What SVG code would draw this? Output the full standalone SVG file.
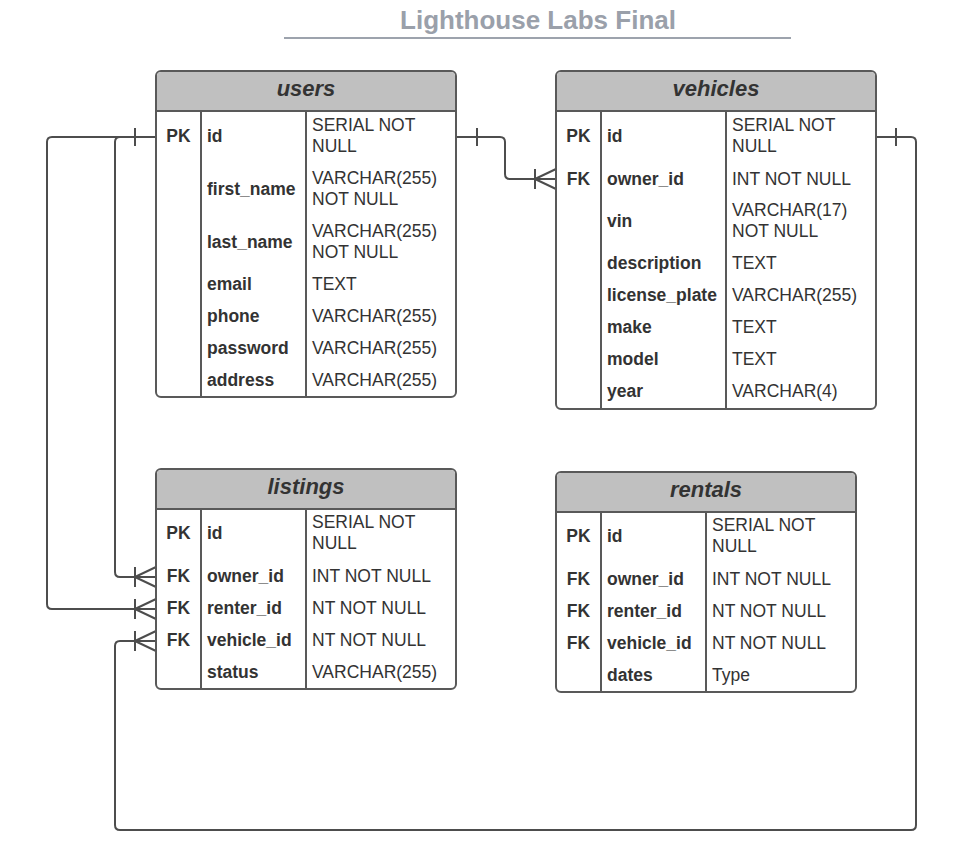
<svg xmlns="http://www.w3.org/2000/svg" width="970" height="846" viewBox="0 0 970 846">
<style>
  .title{font-family:"Liberation Sans",Arial,sans-serif;font-size:26px;font-weight:bold;fill:#9aa0aa;text-anchor:middle}
  .tbl{fill:#ffffff;stroke:#595959;stroke-width:2}
  .hdr{fill:#c0c0c0;stroke:none}
  .ln{stroke:#595959;stroke-width:2;fill:none}
  .hd{font-family:"Liberation Sans",Arial,sans-serif;font-size:22px;font-weight:bold;font-style:italic;fill:#333333;text-anchor:middle}
  .k{font-family:"Liberation Sans",Arial,sans-serif;font-size:17.5px;font-weight:bold;fill:#333333;text-anchor:middle}
  .n{font-family:"Liberation Sans",Arial,sans-serif;font-size:17.5px;font-weight:bold;fill:#333333}
  .t{font-family:"Liberation Sans",Arial,sans-serif;font-size:17.5px;fill:#333333}
  .cn{stroke:#4d4d4d;stroke-width:2;fill:none;stroke-linejoin:round}
</style>
<rect width="970" height="846" fill="#ffffff"/>
<g id="title">
  <text class="title" x="538" y="29">Lighthouse Labs Final</text>
  <line x1="284" y1="38" x2="791" y2="38" stroke="#9da3ad" stroke-width="2"/>
</g>

<g id="connectors">
  <path class="cn" d="M156,137 H120 Q115,137 115,142 V572 Q115,577 120,577 H156"/>
  <path class="cn" d="M156,137 H52 Q47,137 47,142 V604 Q47,609 52,609 H156"/>
  <path class="cn" d="M456,137 H500 Q505,137 505,142 V174 Q505,179 510,179 H556"/>
  <path class="cn" d="M876,137 H911 Q916,137 916,142 V825 Q916,830 911,830 H120 Q115,830 115,825 V646 Q115,641 120,641 H156"/>
  <line class="cn" x1="135" y1="128" x2="135" y2="146"/>
  <line class="cn" x1="477" y1="128" x2="477" y2="146"/>
  <line class="cn" x1="896" y1="128" x2="896" y2="146"/>
  <line class="cn" x1="535" y1="169" x2="535" y2="189"/>
  <path class="cn" d="M556,169 L535,179 L556,189"/>
  <line class="cn" x1="135" y1="567" x2="135" y2="587"/>
  <path class="cn" d="M156,567 L135,577 L156,587"/>
  <line class="cn" x1="135" y1="599" x2="135" y2="619"/>
  <path class="cn" d="M156,599 L135,609 L156,619"/>
  <line class="cn" x1="135" y1="631" x2="135" y2="651"/>
  <path class="cn" d="M156,631 L135,641 L156,651"/>
</g>

<g id="users">
  <rect class="tbl" x="156" y="71" width="300" height="326" rx="5"/>
  <path class="hdr" d="M157,111 V76 Q157,72 161,72 H451 Q455,72 455,76 V111 Z"/>
  <line class="ln" x1="156" y1="111" x2="456" y2="111"/>
  <line class="ln" x1="201" y1="111" x2="201" y2="397"/>
  <line class="ln" x1="306" y1="111" x2="306" y2="397"/>
  <text class="hd" x="306" y="96">users</text>
  <text class="k" x="178.5" y="142">PK</text>
  <text class="n" x="207" y="142">id</text>
  <text class="t" x="312" y="131">SERIAL NOT</text>
  <text class="t" x="312" y="152">NULL</text>
  <text class="n" x="207" y="195">first_name</text>
  <text class="t" x="312" y="184">VARCHAR(255)</text>
  <text class="t" x="312" y="205">NOT NULL</text>
  <text class="n" x="207" y="248">last_name</text>
  <text class="t" x="312" y="237">VARCHAR(255)</text>
  <text class="t" x="312" y="258">NOT NULL</text>
  <text class="n" x="207" y="290">email</text>
  <text class="t" x="312" y="290">TEXT</text>
  <text class="n" x="207" y="322">phone</text>
  <text class="t" x="312" y="322">VARCHAR(255)</text>
  <text class="n" x="207" y="354">password</text>
  <text class="t" x="312" y="354">VARCHAR(255)</text>
  <text class="n" x="207" y="386">address</text>
  <text class="t" x="312" y="386">VARCHAR(255)</text>
</g>

<g id="vehicles">
  <rect class="tbl" x="556" y="71" width="320" height="338" rx="5"/>
  <path class="hdr" d="M557,111 V76 Q557,72 561,72 H871 Q875,72 875,76 V111 Z"/>
  <line class="ln" x1="556" y1="111" x2="876" y2="111"/>
  <line class="ln" x1="601" y1="111" x2="601" y2="409"/>
  <line class="ln" x1="726" y1="111" x2="726" y2="409"/>
  <text class="hd" x="716" y="96">vehicles</text>
  <text class="k" x="578.5" y="142">PK</text>
  <text class="n" x="607" y="142">id</text>
  <text class="t" x="732" y="131">SERIAL NOT</text>
  <text class="t" x="732" y="152">NULL</text>
  <text class="k" x="578.5" y="185">FK</text>
  <text class="n" x="607" y="185">owner_id</text>
  <text class="t" x="732" y="185">INT NOT NULL</text>
  <text class="n" x="607" y="227">vin</text>
  <text class="t" x="732" y="216">VARCHAR(17)</text>
  <text class="t" x="732" y="237">NOT NULL</text>
  <text class="n" x="607" y="269">description</text>
  <text class="t" x="732" y="269">TEXT</text>
  <text class="n" x="607" y="301">license_plate</text>
  <text class="t" x="732" y="301">VARCHAR(255)</text>
  <text class="n" x="607" y="333">make</text>
  <text class="t" x="732" y="333">TEXT</text>
  <text class="n" x="607" y="365">model</text>
  <text class="t" x="732" y="365">TEXT</text>
  <text class="n" x="607" y="397">year</text>
  <text class="t" x="732" y="397">VARCHAR(4)</text>
</g>

<g id="listings">
  <rect class="tbl" x="156" y="469" width="300" height="220" rx="5"/>
  <path class="hdr" d="M157,509 V474 Q157,470 161,470 H451 Q455,470 455,474 V509 Z"/>
  <line class="ln" x1="156" y1="509" x2="456" y2="509"/>
  <line class="ln" x1="201" y1="509" x2="201" y2="689"/>
  <line class="ln" x1="306" y1="509" x2="306" y2="689"/>
  <text class="hd" x="306" y="494">listings</text>
  <text class="k" x="178.5" y="539">PK</text>
  <text class="n" x="207" y="539">id</text>
  <text class="t" x="312" y="528">SERIAL NOT</text>
  <text class="t" x="312" y="549">NULL</text>
  <text class="k" x="178.5" y="582">FK</text>
  <text class="n" x="207" y="582">owner_id</text>
  <text class="t" x="312" y="582">INT NOT NULL</text>
  <text class="k" x="178.5" y="614">FK</text>
  <text class="n" x="207" y="614">renter_id</text>
  <text class="t" x="312" y="614">NT NOT NULL</text>
  <text class="k" x="178.5" y="646">FK</text>
  <text class="n" x="207" y="646">vehicle_id</text>
  <text class="t" x="312" y="646">NT NOT NULL</text>
  <text class="n" x="207" y="678">status</text>
  <text class="t" x="312" y="678">VARCHAR(255)</text>
</g>

<g id="rentals">
  <rect class="tbl" x="556" y="472" width="300" height="220" rx="5"/>
  <path class="hdr" d="M557,512 V477 Q557,473 561,473 H851 Q855,473 855,477 V512 Z"/>
  <line class="ln" x1="556" y1="512" x2="856" y2="512"/>
  <line class="ln" x1="601" y1="512" x2="601" y2="692"/>
  <line class="ln" x1="706" y1="512" x2="706" y2="692"/>
  <text class="hd" x="706" y="497">rentals</text>
  <text class="k" x="578.5" y="542">PK</text>
  <text class="n" x="607" y="542">id</text>
  <text class="t" x="712" y="531">SERIAL NOT</text>
  <text class="t" x="712" y="552">NULL</text>
  <text class="k" x="578.5" y="585">FK</text>
  <text class="n" x="607" y="585">owner_id</text>
  <text class="t" x="712" y="585">INT NOT NULL</text>
  <text class="k" x="578.5" y="617">FK</text>
  <text class="n" x="607" y="617">renter_id</text>
  <text class="t" x="712" y="617">NT NOT NULL</text>
  <text class="k" x="578.5" y="649">FK</text>
  <text class="n" x="607" y="649">vehicle_id</text>
  <text class="t" x="712" y="649">NT NOT NULL</text>
  <text class="n" x="607" y="681">dates</text>
  <text class="t" x="712" y="681">Type</text>
</g>
</svg>
